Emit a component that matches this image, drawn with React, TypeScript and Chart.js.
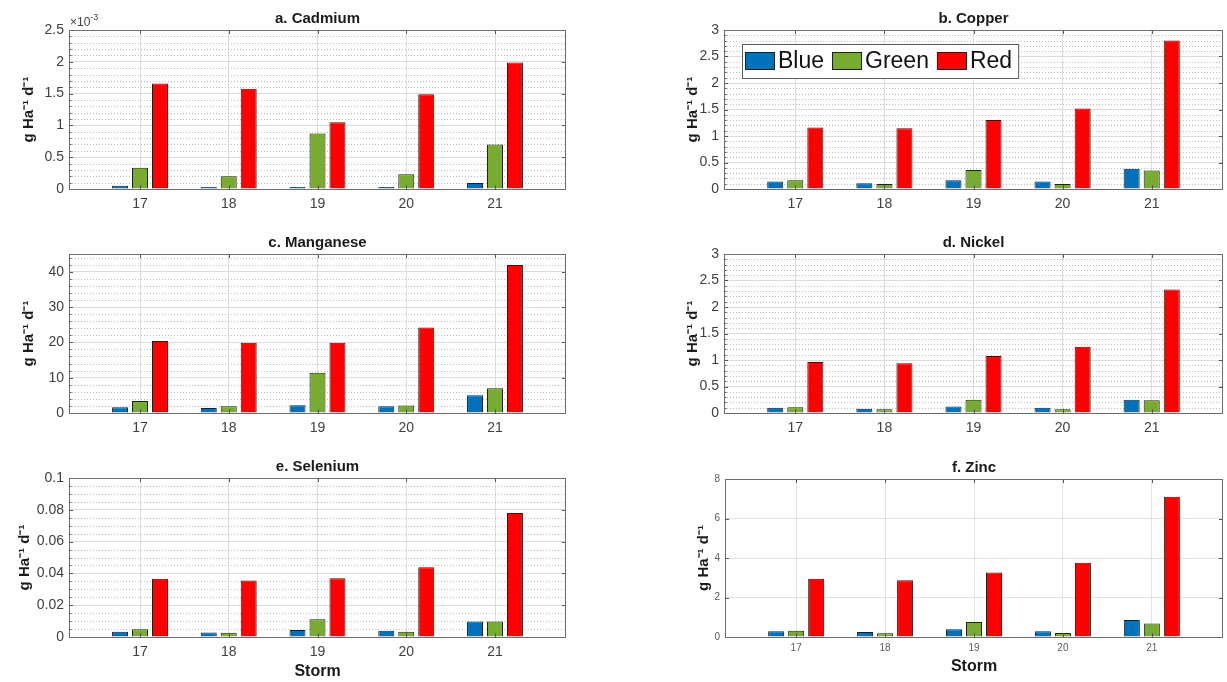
import { useEffect, useRef } from 'react';
import { Chart, registerables } from 'chart.js';

Chart.register(...registerables);

const FONT = '"Liberation Sans", Arial, Helvetica, sans-serif';
Chart.defaults.font.family = FONT;

// ---------- data ----------
const storms = [17, 18, 19, 20, 21];
const seriesNames = ['Blue', 'Green', 'Red'];
const seriesColors = ['#0072BD', '#77AC30', '#FF0000'];

const cadmiumBlue = [0.00005, 0.00003, 0.00003, 0.00003, 0.000094];
const cadmiumGreen = [0.000335, 0.0002, 0.000873, 0.00023, 0.0007];
const cadmiumRed = [0.00166, 0.001575, 0.00105, 0.00149, 0.00199];

const copperBlue = [0.14, 0.11, 0.165, 0.14, 0.38];
const copperGreen = [0.165, 0.095, 0.36, 0.095, 0.35];
const copperRed = [1.16, 1.145, 1.3, 1.52, 2.8];

const manganeseBlue = [1.6, 1.4, 2.2, 1.9, 5.0];
const manganeseGreen = [3.4, 1.9, 11.4, 2.1, 7.0];
const manganeseRed = [20.4, 19.9, 19.9, 24.2, 41.9];

const nickelBlue = [0.1, 0.08, 0.125, 0.1, 0.25];
const nickelGreen = [0.11, 0.07, 0.25, 0.07, 0.24];
const nickelRed = [0.96, 0.94, 1.075, 1.25, 2.33];

const seleniumBlue = [0.0033, 0.0029, 0.0044, 0.004, 0.0098];
const seleniumGreen = [0.0048, 0.0027, 0.0111, 0.0033, 0.0098];
const seleniumRed = [0.0366, 0.0356, 0.037, 0.0439, 0.078];

const zincBlue = [0.29, 0.25, 0.39, 0.29, 0.86];
const zincGreen = [0.32, 0.19, 0.76, 0.2, 0.68];
const zincRed = [2.95, 2.87, 3.26, 3.76, 7.1];

const cadmiumTicks = [0, 0.0005, 0.001, 0.0015, 0.002, 0.0025];
const copperTicks = [0, 0.5, 1, 1.5, 2, 2.5, 3];
const manganeseTicks = [0, 10, 20, 30, 40];
const nickelTicks = [0, 0.5, 1, 1.5, 2, 2.5, 3];
const seleniumTicks = [0, 0.02, 0.04, 0.06, 0.08, 0.1];
const zincTicks = [0, 2, 4, 6, 8];

const yTitle = 'g Ha\u207B\u00B9 d\u207B\u00B9';
const xTitle = 'Storm';

// ---------- layout ----------
type Panel = {
  key: string;
  title: string;
  series: number[][];
  ticks: number[];
  yMax: number;
  minor: number;
  factor: number;
  exponent: string;
  left: number;
  top: number;
  width: number;
  height: number;
  plotLeft: number;
  plotRight: number;
  plotH: number;
  yTitleX: number;
  xTitle: boolean;
  xTitleY: number;
  legend: boolean;
  tickSize: number;
  tickColor: string;
  xTickPad: number;
  yTickPad: number;
  gridColor: string;
};

const panels: Panel[] = [
  { key: 'a', title: 'a. Cadmium', series: [cadmiumBlue, cadmiumGreen, cadmiumRed], ticks: cadmiumTicks, yMax: 0.0025, minor: 0.0001, factor: 1000, exponent: '-3',
    left: 0, top: 0, width: 613, height: 224, plotLeft: 69, plotRight: 566, plotH: 159, yTitleX: 29, xTitle: false, xTitleY: 0, legend: false, tickSize: 14, tickColor: '#404040', xTickPad: 7, yTickPad: 5, gridColor: '#dcdcdc' },
  { key: 'b', title: 'b. Copper', series: [copperBlue, copperGreen, copperRed], ticks: copperTicks, yMax: 3, minor: 0.1, factor: 1, exponent: '',
    left: 640, top: 0, width: 587, height: 224, plotLeft: 724, plotRight: 1223, plotH: 159, yTitleX: 693, xTitle: false, xTitleY: 0, legend: true, tickSize: 14, tickColor: '#404040', xTickPad: 7, yTickPad: 5, gridColor: '#dcdcdc' },
  { key: 'c', title: 'c. Manganese', series: [manganeseBlue, manganeseGreen, manganeseRed], ticks: manganeseTicks, yMax: 45, minor: 2, factor: 1, exponent: '',
    left: 0, top: 224, width: 613, height: 224, plotLeft: 69, plotRight: 566, plotH: 159, yTitleX: 29, xTitle: false, xTitleY: 0, legend: false, tickSize: 14, tickColor: '#404040', xTickPad: 7, yTickPad: 5, gridColor: '#dcdcdc' },
  { key: 'd', title: 'd. Nickel', series: [nickelBlue, nickelGreen, nickelRed], ticks: nickelTicks, yMax: 3, minor: 0.1, factor: 1, exponent: '',
    left: 640, top: 224, width: 587, height: 224, plotLeft: 724, plotRight: 1223, plotH: 159, yTitleX: 693, xTitle: false, xTitleY: 0, legend: false, tickSize: 14, tickColor: '#404040', xTickPad: 7, yTickPad: 5, gridColor: '#dcdcdc' },
  { key: 'e', title: 'e. Selenium', series: [seleniumBlue, seleniumGreen, seleniumRed], ticks: seleniumTicks, yMax: 0.1, minor: 0.005, factor: 1, exponent: '',
    left: 0, top: 448, width: 613, height: 234, plotLeft: 69, plotRight: 566, plotH: 159, yTitleX: 25, xTitle: true, xTitleY: 672, legend: false, tickSize: 14, tickColor: '#404040', xTickPad: 7, yTickPad: 5, gridColor: '#dcdcdc' },
  { key: 'f', title: 'f. Zinc', series: [zincBlue, zincGreen, zincRed], ticks: zincTicks, yMax: 8, minor: 0, factor: 1, exponent: '',
    left: 640, top: 449, width: 587, height: 233, plotLeft: 725, plotRight: 1223, plotH: 158, yTitleX: 704, xTitle: true, xTitleY: 667, legend: false, tickSize: 10, tickColor: '#5a5a5a', xTickPad: 5, yTickPad: 5, gridColor: '#e2e2e2' },
];

const fmt = (v: number, factor: number) => String(Math.round(v * factor * 1e6) / 1e6);

function decor(p: Panel) {
  const major = p.ticks[1] - p.ticks[0];
  return {
    id: 'decor' + p.key,
    beforeDatasetsDraw(chart: any) {
      const { ctx, chartArea: ca } = chart;
      const y = chart.scales.y;
      if (p.minor > 0) {
        ctx.save();
        ctx.strokeStyle = '#bdbdbd';
        ctx.lineWidth = 1;
        ctx.setLineDash([1, 2]);
        for (let i = 1; i * p.minor < p.yMax + p.minor * 1e-6; i++) {
          const v = i * p.minor;
          const r = v / major;
          if (Math.abs(r - Math.round(r)) < 1e-6) continue;
          const py = Math.round(y.getPixelForValue(v)) + 0.5;
          ctx.beginPath();
          ctx.moveTo(ca.left, py);
          ctx.lineTo(ca.right, py);
          ctx.stroke();
        }
        ctx.restore();
      }
    },
    afterDatasetsDraw(chart: any) {
      const { ctx, chartArea: ca } = chart;
      const y = chart.scales.y;
      const x = chart.scales.x;
      ctx.save();
      // inward ticks
      ctx.strokeStyle = '#555';
      ctx.lineWidth = 1;
      ctx.beginPath();
      if (p.minor > 0) {
        for (let i = 1; i * p.minor < p.yMax + p.minor * 1e-6; i++) {
          const py = Math.round(y.getPixelForValue(i * p.minor)) + 0.5;
          ctx.moveTo(ca.left, py);
          ctx.lineTo(ca.left + 2.5, py);
        }
      }
      p.ticks.forEach((v) => {
        const py = Math.round(y.getPixelForValue(v)) + 0.5;
        ctx.moveTo(ca.left, py);
        ctx.lineTo(ca.left + 4, py);
        ctx.moveTo(ca.right, py);
        ctx.lineTo(ca.right - 4, py);
      });
      storms.forEach((s) => {
        const px = Math.round(x.getPixelForValue(s)) + 0.5;
        ctx.moveTo(px, ca.bottom);
        ctx.lineTo(px, ca.bottom - 4);
        ctx.moveTo(px, ca.top);
        ctx.lineTo(px, ca.top + 4);
      });
      ctx.stroke();
      // frame
      ctx.strokeStyle = '#6e6e6e';
      ctx.strokeRect(Math.round(ca.left) + 0.5, Math.round(ca.top) + 0.5, Math.round(ca.right - ca.left) - 1, Math.round(ca.bottom - ca.top));
      // exponent label
      if (p.exponent) {
        ctx.fillStyle = p.tickColor;
        ctx.textBaseline = 'alphabetic';
        ctx.textAlign = 'left';
        ctx.font = '12px ' + FONT;
        const base = '\u00D710';
        ctx.fillText(base, ca.left + 1, ca.top - 4);
        const w = ctx.measureText(base).width;
        ctx.font = '9px ' + FONT;
        ctx.fillText(p.exponent, ca.left + 1 + w, ca.top - 10);
      }
      // legend
      if (p.legend) {
        const ds = chart.data.datasets;
        ctx.font = '23px ' + FONT;
        const bx = ca.left + 18;
        const by = ca.top + 14;
        const bh = 34;
        const sw = 30;
        const sh = 18;
        const widths = ds.map((d: any) => ctx.measureText(d.label).width);
        const total = 3 + widths.reduce((a: number, w: number) => a + sw + 3 + w, 0) + 8 * (ds.length - 1) + 6;
        ctx.fillStyle = '#ffffff';
        ctx.fillRect(bx, by, total, bh);
        ctx.strokeStyle = '#5a5a5a';
        ctx.lineWidth = 1;
        ctx.strokeRect(bx + 0.5, by + 0.5, total, bh);
        let cx = bx + 3;
        ds.forEach((d: any, i: number) => {
          const sy = by + (bh - sh) / 2;
          ctx.fillStyle = d.backgroundColor;
          ctx.fillRect(cx, sy, sw, sh);
          ctx.strokeStyle = '#1f1f1f';
          ctx.strokeRect(cx + 0.5, sy + 0.5, sw - 1, sh - 1);
          ctx.fillStyle = '#111';
          ctx.textBaseline = 'middle';
          ctx.textAlign = 'left';
          ctx.fillText(d.label, cx + sw + 3, by + bh / 2 + 1);
          cx += sw + 3 + widths[i] + 8;
        });
      }
      ctx.restore();
    },
  };
}

function buildConfig(p: Panel): any {
  const yAxisW = p.plotLeft - p.left;
  const padRight = p.left + p.width - p.plotRight;
  const xAxisH = p.height - 30 - p.plotH;
  const titleLH = 15 * 1.2;
  const titleTop = 18.5 - titleLH / 2;
  const xTitleLH = 16 * 1.2;
  const xTitlePadBottom = p.top + p.height - p.xTitleY - xTitleLH / 2;
  const yTitleLH = 15 * 1.2;
  return {
    type: 'bar',
    data: {
      labels: storms,
      datasets: p.series.map((s, i) => ({
        label: seriesNames[i],
        data: s,
        backgroundColor: seriesColors[i],
        borderColor: '#1f1f1f',
        borderWidth: 1,
        barPercentage: 0.8,
        categoryPercentage: 0.675,
      })),
    },
    options: {
      responsive: false,
      animation: false,
      devicePixelRatio: 1,
      layout: { padding: { left: 0, right: padRight, top: 0, bottom: 0 } },
      plugins: {
        legend: { display: false },
        tooltip: { enabled: false },
        title: {
          display: true,
          text: p.title,
          fullSize: false,
          color: '#1a1a1a',
          font: { size: 15, weight: 'bold', family: FONT, lineHeight: 1.2 },
          padding: { top: titleTop, bottom: 30 - titleTop - titleLH },
        },
      },
      scales: {
        x: {
          type: 'linear',
          min: 16.2,
          max: 21.8,
          offset: false,
          grid: { offset: false, color: p.gridColor, drawTicks: false, lineWidth: 1 },
          border: { display: false },
          afterBuildTicks: (s: any) => { s.ticks = storms.map((v) => ({ value: v })); },
          afterFit: (s: any) => { s.height = xAxisH; },
          ticks: {
            autoSkip: false,
            maxRotation: 0,
            padding: p.xTickPad,
            color: p.tickColor,
            font: { size: p.tickSize, family: FONT },
            callback: (v: any) => String(v),
          },
          title: {
            display: p.xTitle,
            text: xTitle,
            color: '#1a1a1a',
            font: { size: 16, weight: 'bold', family: FONT, lineHeight: 1.2 },
            padding: { top: 0, bottom: xTitlePadBottom },
          },
        },
        y: {
          type: 'linear',
          min: 0,
          max: p.yMax,
          grid: { color: p.gridColor, drawTicks: false, lineWidth: 1 },
          border: { display: false },
          afterBuildTicks: (s: any) => { s.ticks = p.ticks.map((v) => ({ value: v })); },
          afterFit: (s: any) => { s.width = yAxisW; },
          ticks: {
            padding: p.yTickPad,
            color: p.tickColor,
            font: { size: p.tickSize, family: FONT },
            callback: (v: any) => fmt(Number(v), p.factor),
          },
          title: {
            display: true,
            text: yTitle,
            color: '#1a1a1a',
            font: { size: 15, weight: 'bold', family: FONT, lineHeight: 1.2 },
            padding: { top: p.yTitleX - p.left - yTitleLH / 2, bottom: 0 },
          },
        },
      },
    },
    plugins: [decor(p)],
  };
}

export default function App() {
  const refs = useRef<(HTMLCanvasElement | null)[]>([]);
  useEffect(() => {
    const charts = panels.map((p, i) => new Chart(refs.current[i] as HTMLCanvasElement, buildConfig(p)));
    return () => charts.forEach((c) => c.destroy());
  }, []);
  return (
    <div style={{ position: 'fixed', left: 0, top: 0, width: 1227, height: 682, background: '#ffffff', overflow: 'hidden' }}>
      {panels.map((p, i) => (
        <canvas
          key={p.key}
          ref={(el) => { refs.current[i] = el; }}
          width={p.width}
          height={p.height}
          style={{ position: 'absolute', left: p.left, top: p.top, width: p.width, height: p.height }}
        />
      ))}
    </div>
  );
}
